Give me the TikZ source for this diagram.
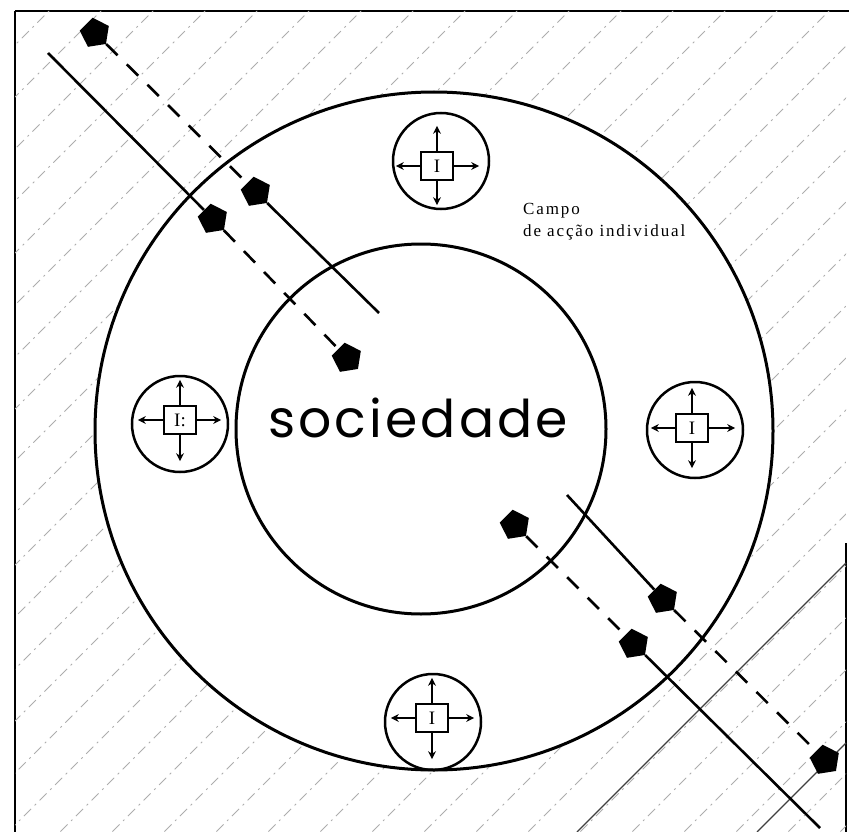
\documentclass[tikz,border=0pt]{standalone}
\usepackage{fontspec}
\setmainfont{Liberation Serif}
\newfontfamily\socfont[LetterSpace=6]{Poppins}
\usetikzlibrary{shapes.geometric,arrows.meta}
\tikzset{
  bigring/.style={draw,line width=3pt},
  unitc/.style={draw,circle,line width=2.5pt,minimum size=96pt,inner sep=0pt},
  ibox/.style={draw,line width=2.3pt,minimum width=32pt,minimum height=28pt,inner sep=0pt,font=\fontsize{19}{19}\selectfont},
  arr/.style={line width=2pt,-{Stealth[length=8pt,width=8pt]}},
  penta/.style={regular polygon,regular polygon sides=5,fill=black,minimum size=31pt,inner sep=0pt,rotate=-135},
  solidl/.style={line width=2.6pt},
  dashl/.style={line width=2.6pt,dash pattern=on 16pt off 13pt},
  hatch/.style={line width=0.8pt,black!32,dash pattern=on 10pt off 5pt on 2pt off 5pt},
  hatchs/.style={line width=1.1pt,black!75}
}
\begin{document}
\begin{tikzpicture}[x=1pt,y=-1pt]
\useasboundingbox (0,0) rectangle (849,832);
\fill[white] (0,0) rectangle (849,832);
% frame
\draw[line width=2.8pt] (15,11) -- (849,11);
\draw[line width=2.8pt] (15,11) -- (15,832);
\draw[line width=2.8pt] (846,543) -- (846,832);
% hatching outside outer ring
\begin{scope}[even odd rule]
\clip (15,11) rectangle (846,832) (434,431) circle[radius=339];
\foreach \c in {60,112,...,1700} {\draw[hatch] (\c,0) -- (0,\c);}
\end{scope}
\draw[hatchs] (846,563) -- (577,832);
\draw[hatchs] (846,743) -- (757,832);
% rings
\draw[bigring] (434,431) circle[radius=339];
\draw[bigring] (421,429) circle[radius=185];
% text
\node[font=\socfont\fontsize{52}{52}\selectfont,anchor=base,inner sep=0pt] (soc) at (418,437) {sociedade};
\node[font=\fontsize{17}{22}\selectfont\addfontfeatures{LetterSpace=11},align=left,anchor=north west,inner sep=0pt] (campo) at (523,203) {Campo\\de acção individual};
% units
\node[unitc] (cT) at (441,161) {};
\node[ibox] (bT) at (437,166) {I};
\draw[arr] (bT.north) -- ++(0,-25);
\draw[arr] (bT.west) -- ++(-24,0);
\draw[arr] (bT.east) -- ++(25,0);
\draw[arr] (bT.south) -- ++(0,24);
\node[unitc] (cL) at (180,424) {};
\node[ibox] (bL) at (180,420) {I:};
\draw[arr] (bL.north) -- ++(0,-25);
\draw[arr] (bL.west) -- ++(-25,0);
\draw[arr] (bL.east) -- ++(24,0);
\draw[arr] (bL.south) -- ++(0,26);
\node[unitc] (cR) at (695,430) {};
\node[ibox] (bR) at (692,428) {I};
\draw[arr] (bR.north) -- ++(0,-25);
\draw[arr] (bR.west) -- ++(-24,0);
\draw[arr] (bR.east) -- ++(26,0);
\draw[arr] (bR.south) -- ++(0,25);
\node[unitc] (cB) at (433,722) {};
\node[ibox] (bB) at (432,718) {I};
\draw[arr] (bB.north) -- ++(0,-25);
\draw[arr] (bB.west) -- ++(-24,0);
\draw[arr] (bB.east) -- ++(25,0);
\draw[arr] (bB.south) -- ++(0,26);
% crossing lines, upper left
\node[penta] (pA1) at (95,33) {};
\node[penta] (pA2) at (256,192) {};
\coordinate (eA) at (379,313);
\coordinate (sB) at (48,53);
\node[penta] (pB1) at (213,219) {};
\node[penta] (pB2) at (347,358) {};
\draw[dashl] (pA1) -- (pA2);
\draw[solidl] (pA2) -- (eA);
\draw[solidl] (sB) -- (pB1);
\draw[dashl] (pB1) -- (pB2);
% crossing lines, lower right
\coordinate (sC) at (567,495);
\node[penta] (pC1) at (663,599) {};
\node[penta] (pC2) at (825,760) {};
\node[penta] (pD1) at (515,525) {};
\node[penta] (pD2) at (634,644) {};
\coordinate (eD) at (820,828);
\draw[solidl] (sC) -- (pC1);
\draw[dashl] (pC1) -- (pC2);
\draw[dashl] (pD1) -- (pD2);
\draw[solidl] (pD2) -- (eD);
\end{tikzpicture}
\end{document}
